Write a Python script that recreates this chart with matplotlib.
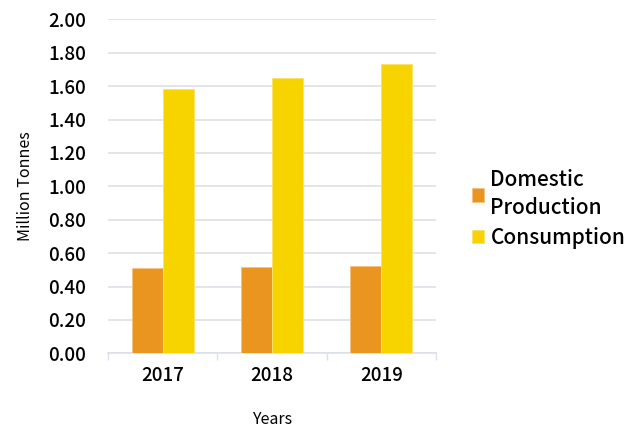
import matplotlib.pyplot as plt
import numpy as np

plt.rcParams["font.family"] = ["Noto Sans CJK JP", "DejaVu Sans"]
plt.rcParams["font.weight"] = "medium"

years = ["2017", "2018", "2019"]
domestic_production = [0.51, 0.515, 0.52]
consumption = [1.58, 1.65, 1.73]

ORANGE = "#E9951F"
YELLOW = "#F7D400"
GRID = "#DDE1E7"

fig = plt.figure(figsize=(6.4, 4.32), dpi=100)
ax = fig.add_axes([108 / 640, 1 - 353.3 / 432, (436 - 108) / 640, (353.3 - 19.3) / 432])

x = np.arange(len(years))
w = 0.284
ax.bar(x - w / 2, domestic_production, width=w, color=ORANGE,
       edgecolor="#F2C27F", linewidth=0.6, label="Domestic\nProduction", zorder=3)
ax.bar(x + w / 2, consumption, width=w, color=YELLOW,
       edgecolor="#FAE36A", linewidth=0.6, label="Consumption", zorder=3)

ax.set_xlim(-0.5, 2.5)
ax.set_ylim(0, 2.0)
ticks = np.arange(0, 2.01, 0.2)
ax.set_yticks(ticks)
ax.set_yticklabels([f"{v:.2f}" for v in ticks], fontsize=13.5)
ax.set_xticks(x)
ax.set_xticklabels(years, fontsize=13.5)
ax.tick_params(axis="x", which="major", length=0, pad=9)
ax.set_xticks([-0.5, 0.5, 1.5, 2.5], minor=True)
ax.tick_params(axis="x", which="minor", length=5, width=1, color=GRID)
ax.tick_params(axis="y", length=0, pad=16)

ax.grid(axis="y", color=GRID, linewidth=1.2, zorder=0)
for side in ("top", "right", "left"):
    ax.spines[side].set_visible(False)
ax.spines["bottom"].set_color(GRID)
ax.spines["bottom"].set_linewidth(1.2)

ax.set_ylabel("Million Tonnes", fontsize=11.5, labelpad=10)
ax.set_xlabel("Years", fontsize=11.5, labelpad=19)

leg = fig.legend(loc="center left", bbox_to_anchor=(453 / 640, 1 - 209 / 432),
                 frameon=False, fontsize=15, handlelength=0.6, handleheight=0.6,
                 handletextpad=0.3, labelspacing=0.4)
for t in leg.get_texts():
    t.set_linespacing(1.35)

fig.savefig("out.png", dpi=100)
